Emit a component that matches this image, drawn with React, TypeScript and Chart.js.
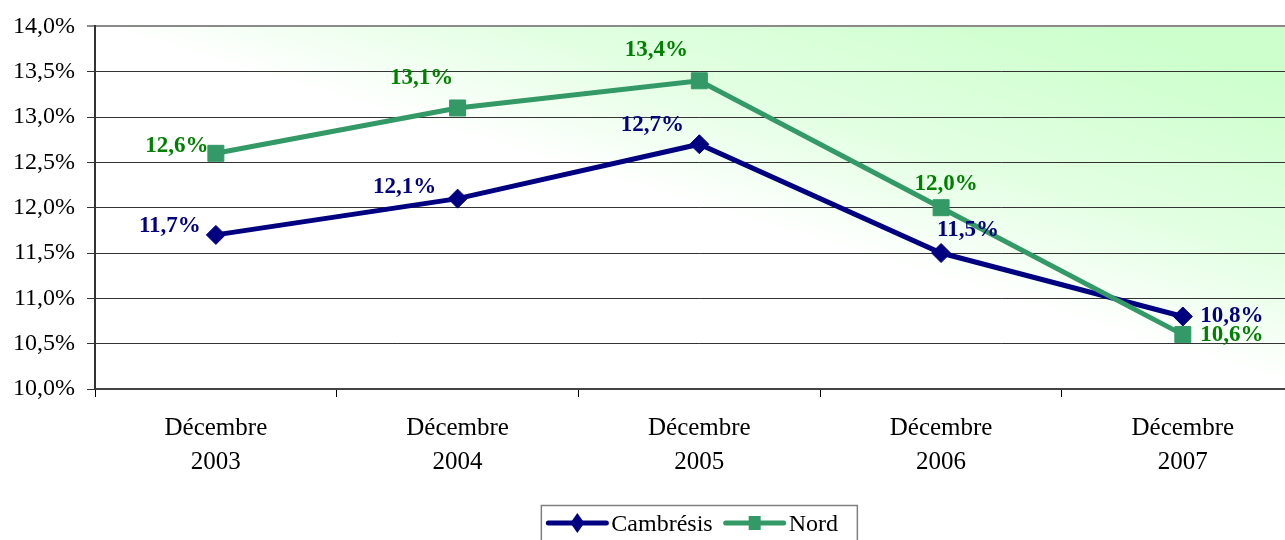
import React, { useEffect, useRef } from 'react';
import { Chart, registerables } from 'chart.js';

Chart.register(...registerables);

// ---- Data ----
const categories: string[][] = [
  ['Décembre', '2003'],
  ['Décembre', '2004'],
  ['Décembre', '2005'],
  ['Décembre', '2006'],
  ['Décembre', '2007'],
];
const seriesNames = ['Cambrésis', 'Nord'];
const cambresis = [11.7, 12.1, 12.7, 11.5, 10.8];
const nord = [12.6, 13.1, 13.4, 12.0, 10.6];
const yMin = 10;
const yMax = 14;
const yStep = 0.5;

// ---- Styles ----
const FONT = '"Liberation Serif", "Times New Roman", serif';
const NAVY = '#000080';
const SEA = '#339966';
const LABEL_GREEN = '#008000';
// label offsets (dx, dy) relative to each point
const cambOffsets = [[-46, -9], [-53, -12], [-47, -19], [27, -23], [49, 0]];
const nordOffsets = [[-39, -7], [-36, -30], [-43, -31], [5, -24], [49, 0]];

const fmt = (v: number) => v.toFixed(1).replace('.', ',') + '%';

const bgPlugin = {
  id: 'bgGradient',
  beforeDraw(chart: any) {
    const { ctx, chartArea } = chart;
    ctx.save();
    ctx.fillStyle = '#ffffff';
    ctx.fillRect(0, 0, chart.width, chart.height);
    const { left, right, top, bottom } = chartArea;
    const W = right - left;
    const H = bottom - top;
    const cx = left + W / 2;
    const cy = top + H / 2;
    const s = 1 / (1 / (W * W) + 1 / (H * H));
    const x1 = cx + s / W;
    const y1 = cy - s / H;
    const g = ctx.createLinearGradient(cx, cy, x1, y1);
    g.addColorStop(0, '#ffffff');
    g.addColorStop(0.35, '#e2ffe2');
    g.addColorStop(0.85, '#ccffcc');
    g.addColorStop(1, '#ccffcc');
    ctx.fillStyle = g;
    ctx.fillRect(left, top, W, H);
    ctx.restore();
  },
};

const labelPlugin = {
  id: 'pointLabels',
  afterDatasetsDraw(chart: any) {
    const { ctx } = chart;
    const specs = [
      { offsets: cambOffsets, color: NAVY },
      { offsets: nordOffsets, color: LABEL_GREEN },
    ];
    ctx.save();
    ctx.font = `bold 23px ${FONT}`;
    ctx.textAlign = 'center';
    ctx.textBaseline = 'middle';
    chart.data.datasets.forEach((ds: any, di: number) => {
      const meta = chart.getDatasetMeta(di);
      meta.data.forEach((el: any, i: number) => {
        const [dx, dy] = specs[di].offsets[i];
        ctx.fillStyle = specs[di].color;
        ctx.fillText(fmt(ds.data[i]), el.x + dx, el.y + dy);
      });
    });
    ctx.restore();
  },
};

const legendPlugin = {
  id: 'customLegend',
  afterDraw(chart: any) {
    const { ctx, chartArea } = chart;
    const centerX = (chartArea.left + chartArea.right) / 2;
    const boxW = 316;
    const boxLeft = centerX - boxW / 2;
    const boxTop = 505.5;
    const lineY = 523;
    ctx.save();
    ctx.strokeStyle = '#808080';
    ctx.lineWidth = 1.5;
    ctx.strokeRect(boxLeft, boxTop, boxW, 60);
    ctx.font = `24px ${FONT}`;
    ctx.textBaseline = 'middle';
    ctx.textAlign = 'left';
    let x = boxLeft + 7;
    const items = [
      { name: seriesNames[0], color: NAVY, shape: 'diamond' },
      { name: seriesNames[1], color: SEA, shape: 'square' },
    ];
    items.forEach((it) => {
      ctx.strokeStyle = it.color;
      ctx.lineWidth = 5;
      ctx.lineCap = 'round';
      ctx.beginPath();
      ctx.moveTo(x, lineY);
      ctx.lineTo(x + 58, lineY);
      ctx.stroke();
      const mx = x + 29;
      ctx.fillStyle = it.color;
      ctx.beginPath();
      if (it.shape === 'diamond') {
        ctx.moveTo(mx, lineY - 10);
        ctx.lineTo(mx + 7, lineY);
        ctx.lineTo(mx, lineY + 10);
        ctx.lineTo(mx - 7, lineY);
        ctx.closePath();
        ctx.fill();
      } else {
        ctx.fillRect(mx - 6, lineY - 7, 12, 14);
      }
      ctx.fillStyle = '#000';
      ctx.fillText(it.name, x + 63, lineY + 2);
      x += 63 + ctx.measureText(it.name).width + 13;
    });
    ctx.restore();
  },
};

export default function App() {
  const ref = useRef<HTMLCanvasElement | null>(null);

  useEffect(() => {
    if (!ref.current) return;
    const chart = new Chart(ref.current, {
      type: 'line',
      data: {
        labels: categories,
        datasets: [
          {
            label: seriesNames[0],
            data: cambresis,
            borderColor: NAVY,
            backgroundColor: NAVY,
            borderWidth: 5,
            pointStyle: 'rectRot',
            pointRadius: 9.5,
            pointBorderWidth: 1,
            pointBackgroundColor: NAVY,
            pointBorderColor: NAVY,
            tension: 0,
            fill: false,
            order: 1,
          },
          {
            label: seriesNames[1],
            data: nord,
            borderColor: SEA,
            backgroundColor: SEA,
            borderWidth: 5,
            pointStyle: 'rect',
            pointRadius: 11.3,
            pointBorderWidth: 1,
            pointBackgroundColor: SEA,
            pointBorderColor: SEA,
            tension: 0,
            fill: false,
            order: 0,
          },
        ],
      },
      options: {
        animation: false,
        responsive: false,
        devicePixelRatio: 1,
        layout: { padding: { left: 0, right: 7, top: 24, bottom: 0 } },
        plugins: {
          legend: { display: false },
          tooltip: { enabled: false },
        },
        scales: {
          x: {
            type: 'category',
            offset: true,
            afterFit: (scale: any) => {
              scale.height = 151;
            },
            grid: {
              offset: true,
              drawOnChartArea: false,
              drawTicks: true,
              tickLength: 8,
              color: '#000',
              lineWidth: 1,
            },
            border: { display: true, color: '#444', width: 2 },
            ticks: {
              color: '#000',
              font: { family: FONT, size: 25, lineHeight: 1.36 },
              padding: 14,
              maxRotation: 0,
              autoSkip: false,
            },
          },
          y: {
            min: yMin,
            max: yMax,
            afterFit: (scale: any) => {
              scale.width = 95;
            },
            grid: {
              color: (c: any) => (c.tick && c.tick.value === yMax ? '#8a8a8a' : '#333'),
              lineWidth: (c: any) => (c.tick && c.tick.value === yMax ? 2 : 1),
              drawTicks: true,
              tickLength: 8,
            },
            border: { display: true, color: '#333', width: 2 },
            ticks: {
              stepSize: yStep,
              color: '#000',
              font: { family: FONT, size: 24 },
              padding: 12,
              callback: (v: any) => fmt(Number(v)),
            },
          },
        },
      },
      plugins: [bgPlugin, labelPlugin, legendPlugin],
    });
    return () => chart.destroy();
  }, []);

  return (
    <div
      style={{
        position: 'fixed',
        left: 0,
        top: 0,
        width: 1285,
        height: 540,
        overflow: 'hidden',
        background: '#fff',
      }}
    >
      <canvas ref={ref} width={1316} height={540} style={{ display: 'block' }} />
    </div>
  );
}
